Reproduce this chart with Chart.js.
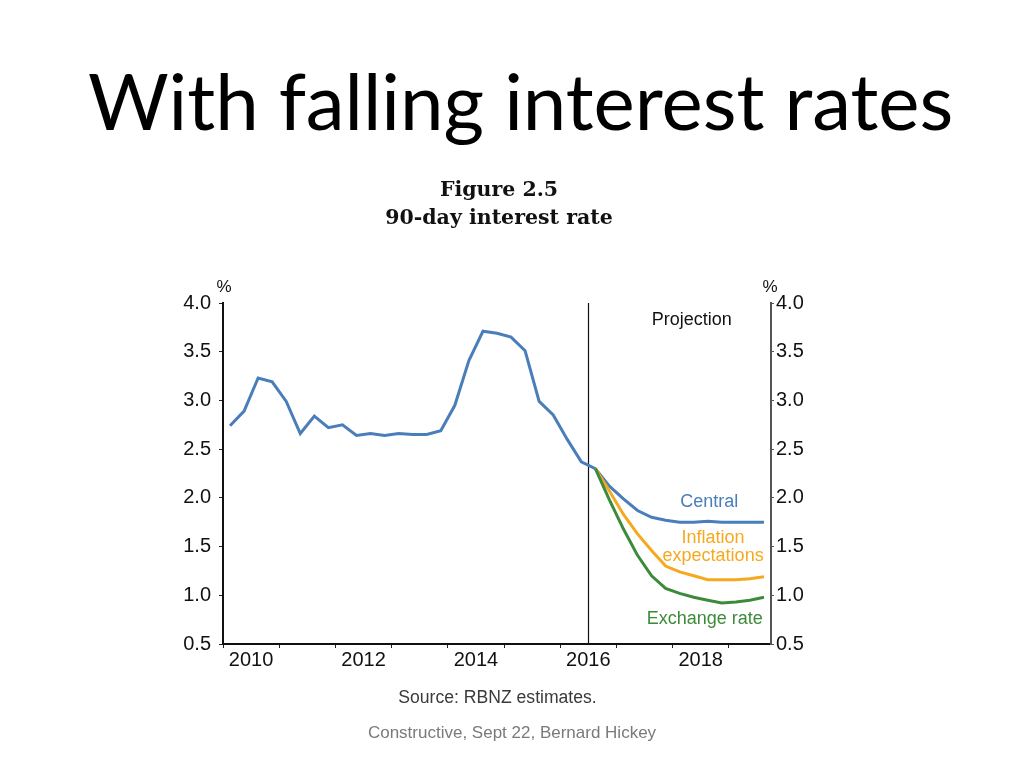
<!DOCTYPE html>
<html>
<head>
<meta charset="utf-8">
<script src="https://cdn.jsdelivr.net/npm/chart.js@4"></script>
<style>
  html, body { margin:0; padding:0; background:#fff; }
  #page { position:relative; width:1024px; height:768px; overflow:hidden; background:#fff; }
  #chartCanvas { position:absolute; left:0; top:0; }
  .txt { position:absolute; white-space:nowrap; }
  #mainTitle { left:88px; top:61px; font-family:Lato, "Open Sans", sans-serif; font-size:78px; color:#000; line-height:1; }
  #figTitle { left:0; width:998px; top:175px; text-align:center; font-family:"DejaVu Serif", serif; font-weight:bold; font-size:20.5px; line-height:28px; color:#111; }
  #source { left:0; width:995px; top:687px; text-align:center; font-family:"Liberation Sans", Arial, sans-serif; font-size:17.6px; color:#3a3a3a; }
  #footer { left:0; width:1024px; top:723px; text-align:center; font-family:"Liberation Sans", Arial, sans-serif; font-size:17px; color:#7a7a7a; }
</style>
</head>
<body>
<div id="page">
  <canvas id="chartCanvas" width="1024" height="768"></canvas>
  <div id="mainTitle" class="txt">With falling interest rates</div>
  <div id="figTitle" class="txt">Figure 2.5<br>90-day interest rate</div>
  <div id="source" class="txt">Source: RBNZ estimates.</div>
  <div id="footer" class="txt">Constructive, Sept 22, Bernard Hickey</div>
</div>
<script>
// ---- Data ----
const quarters = [
  '2010Q1','2010Q2','2010Q3','2010Q4','2011Q1','2011Q2','2011Q3','2011Q4',
  '2012Q1','2012Q2','2012Q3','2012Q4','2013Q1','2013Q2','2013Q3','2013Q4',
  '2014Q1','2014Q2','2014Q3','2014Q4','2015Q1','2015Q2','2015Q3','2015Q4',
  '2016Q1','2016Q2','2016Q3','2016Q4','2017Q1','2017Q2','2017Q3','2017Q4',
  '2018Q1','2018Q2','2018Q3','2018Q4','2019Q1','2019Q2','2019Q3'
];
// history (2010Q1-2016Q3) followed by central projection (2016Q4-2019Q3)
const centralRates = [
  2.74, 2.89, 3.23, 3.19, 2.99, 2.66, 2.84, 2.72,
  2.75, 2.64, 2.66, 2.64, 2.66, 2.65, 2.65, 2.69,
  2.95, 3.41, 3.71, 3.69, 3.65, 3.51, 2.99, 2.85,
  2.60, 2.37, 2.30, 2.12, 1.99, 1.87, 1.80, 1.77,
  1.75, 1.75, 1.76, 1.75, 1.75, 1.75, 1.75
];
const inflationRates = [
  null, null, null, null, null, null, null, null,
  null, null, null, null, null, null, null, null,
  null, null, null, null, null, null, null, null,
  null, null, 2.30, 2.07, 1.83, 1.63, 1.46, 1.30,
  1.24, 1.20, 1.16, 1.16, 1.16, 1.17, 1.19
];
const exchangeRates = [
  null, null, null, null, null, null, null, null,
  null, null, null, null, null, null, null, null,
  null, null, null, null, null, null, null, null,
  null, null, 2.30, 1.98, 1.68, 1.41, 1.20, 1.07,
  1.02, 0.98, 0.95, 0.92, 0.93, 0.95, 0.98
];
const yearLabels = ['2010', '2012', '2014', '2016', '2018'];
const yTickValues = [0.5, 1.0, 1.5, 2.0, 2.5, 3.0, 3.5, 4.0];
const projectionStart = 2016.5;

// ---- helpers ----
function quarterPos(q) {
  const y = parseInt(q.slice(0, 4), 10);
  const n = parseInt(q.slice(5), 10);
  return y + (n - 1) * 0.25 + 0.125;
}
function toPoints(vals) {
  return quarters.map((q, i) => ({ x: quarterPos(q), y: vals[i] }));
}

const BLUE = '#4A7EBB';
const ORANGE = '#F6A91E';
const GREEN = '#3C8B3A';
const LABEL_FONT = '"Liberation Sans", Arial, sans-serif';

const labelSet = new Set(yearLabels.map(l => parseInt(l, 10) + 0.5));

const annotations = [
  { text: 'Projection', x: 2018.34, y: 3.83, color: '#111' },
  { text: 'Central', x: 2018.65, y: 1.96, color: BLUE },
  { text: 'Inflation', x: 2018.72, y: 1.59, color: ORANGE },
  { text: 'expectations', x: 2018.72, y: 1.40, color: ORANGE },
  { text: 'Exchange rate', x: 2018.57, y: 0.76, color: GREEN }
];

const overlayPlugin = {
  id: 'overlay',
  beforeDatasetsDraw(chart) {
    const { ctx, chartArea, scales } = chart;
    const px = Math.round(scales.x.getPixelForValue(projectionStart)) + 0.5;
    ctx.save();
    ctx.strokeStyle = '#111';
    ctx.lineWidth = 1.2;
    ctx.beginPath();
    ctx.moveTo(px, chartArea.top);
    ctx.lineTo(px, chartArea.bottom);
    ctx.stroke();
    ctx.restore();
  },
  afterDraw(chart) {
    const { ctx, chartArea, scales } = chart;
    ctx.save();
    ctx.textAlign = 'center';
    ctx.textBaseline = 'middle';
    ctx.font = '18px ' + LABEL_FONT;
    annotations.forEach(a => {
      ctx.fillStyle = a.color;
      ctx.fillText(a.text, scales.x.getPixelForValue(a.x), scales.y.getPixelForValue(a.y));
    });
    ctx.fillStyle = '#111';
    ctx.font = '17px ' + LABEL_FONT;
    ctx.fillText('%', chartArea.left + 1, chartArea.top - 16);
    ctx.fillText('%', chartArea.right - 1, chartArea.top - 16);
    ctx.restore();
  }
};

new Chart(document.getElementById('chartCanvas'), {
  type: 'line',
  data: {
    datasets: [
      { label: 'Exchange rate', data: toPoints(exchangeRates), borderColor: GREEN, borderWidth: 3, pointRadius: 0, tension: 0, fill: false, yAxisID: 'y' },
      { label: 'Inflation expectations', data: toPoints(inflationRates), borderColor: ORANGE, borderWidth: 3, pointRadius: 0, tension: 0, fill: false, yAxisID: 'y' },
      { label: 'Central', data: toPoints(centralRates), borderColor: BLUE, borderWidth: 3, pointRadius: 0, tension: 0, fill: false, yAxisID: 'y' }
    ]
  },
  options: {
    responsive: false,
    animation: false,
    devicePixelRatio: 1,
    layout: { padding: { left: 160, right: 193, top: 303, bottom: 94 } },
    plugins: { legend: { display: false }, tooltip: { enabled: false }, title: { display: false } },
    scales: {
      x: {
        type: 'linear',
        position: 'bottom',
        min: 2010,
        max: 2019.75,
        afterBuildTicks(scale) {
          const t = [];
          for (let v = 2010; v <= 2019.5; v += 0.5) t.push({ value: v });
          scale.ticks = t;
        },
        afterFit(scale) { scale.height = 30; },
        ticks: {
          autoSkip: false,
          maxRotation: 0,
          minRotation: 0,
          padding: 0,
          color: '#111',
          font: { family: LABEL_FONT, size: 20 },
          callback(v) { return labelSet.has(v) ? String(v - 0.5) : ''; }
        },
        grid: {
          drawOnChartArea: false,
          drawTicks: true,
          tickLength: 4,
          color(ctx) { return (ctx.tick && Number.isInteger(ctx.tick.value)) ? '#222' : 'rgba(0,0,0,0)'; }
        },
        border: { display: true, color: '#111', width: 2 }
      },
      y: {
        position: 'left',
        min: 0.5,
        max: 4.0,
        afterBuildTicks(scale) { scale.ticks = yTickValues.map(v => ({ value: v })); },
        afterFit(scale) { scale.width = 63; },
        ticks: {
          padding: 8,
          color: '#111',
          font: { family: LABEL_FONT, size: 20 },
          callback(v) { return Number(v).toFixed(1); }
        },
        grid: { drawOnChartArea: false, drawTicks: true, tickLength: 4, color: '#222' },
        border: { display: true, color: '#111', width: 2 }
      },
      y2: {
        position: 'right',
        min: 0.5,
        max: 4.0,
        afterBuildTicks(scale) { scale.ticks = yTickValues.map(v => ({ value: v })); },
        afterFit(scale) { scale.width = 60; },
        ticks: {
          padding: 2,
          color: '#111',
          font: { family: LABEL_FONT, size: 20 },
          callback(v) { return Number(v).toFixed(1); }
        },
        grid: { drawOnChartArea: false, drawTicks: true, tickLength: 3, color: '#555' },
        border: { display: true, color: '#555', width: 2 }
      }
    }
  },
  plugins: [overlayPlugin]
});
</script>
</body>
</html>
